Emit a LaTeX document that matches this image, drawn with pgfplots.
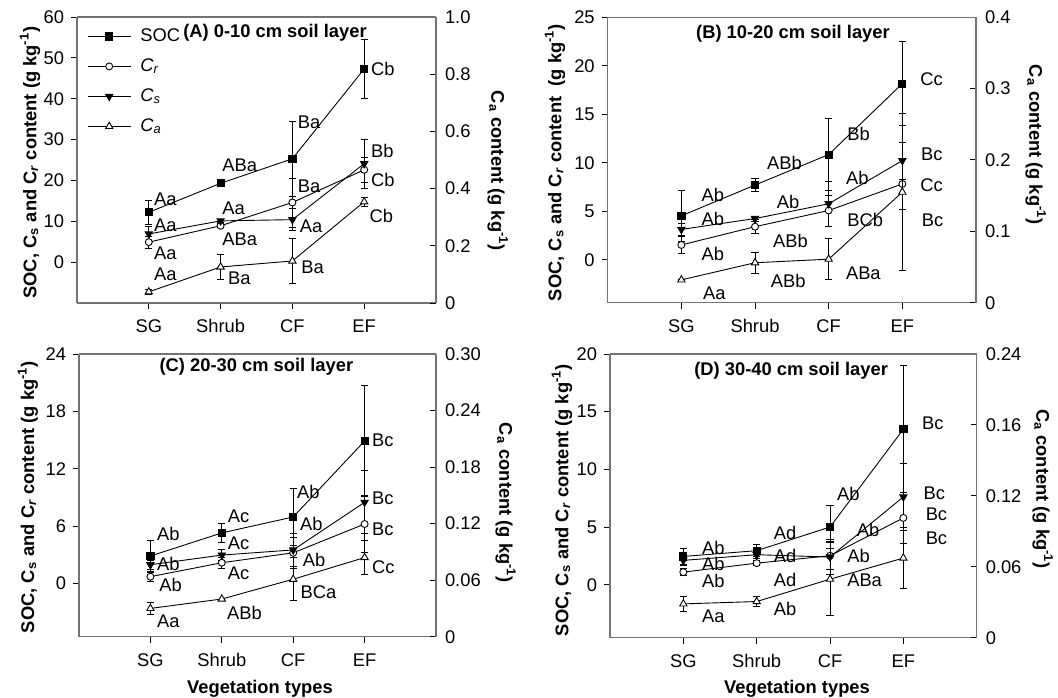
\documentclass[border=0pt]{standalone}
\usepackage{fontspec}
\setmainfont{Liberation Sans}
\usepackage{pgfplots}
\pgfplotsset{compat=1.18}
\newcommand{\fs}{\fontsize{9.2}{11}\selectfont}
\newcommand{\lab}[3]{\node[anchor=west,inner sep=0pt,font=\fs] at (axis cs:#1,#2) {#3};}
\pgfplotsset{
  base/.style={scale only axis, xmin=0, xmax=5,
    /pgf/number format/assume math mode=true,
    tick label style={font=\fs},
    axis line style={draw=black!55, line width=0.6bp},
    major tick length=3bp,
    every tick/.style={black, line width=0.5bp},
  },
  lax/.style={base, axis y line*=left, axis x line*=bottom, tick align=outside,
    xtick={1,2,3,4}, xticklabels={SG,Shrub,CF,EF}, clip=false,
    xticklabel style={text height=6.7bp, text depth=0pt, yshift=-1.5bp},
    every axis y label/.style={rotate=90, anchor=center, font=\fs\bfseries},
    every axis x label/.style={anchor=center, font=\fs\bfseries},
  },
  rax/.style={base, axis y line*=right, axis x line*=top, xtick=\empty, ymin=0, tick align=inside,
    yticklabel style={xshift=1bp},
    every axis y label/.style={rotate=-90, anchor=center, font=\fs\bfseries},
  },
  pl/.style={black, line width=0.45bp,
    error bars/y dir=both, error bars/y explicit,
    error bars/error bar style={line width=0.45bp, black, solid},
    error bars/error mark options={rotate=90, mark size=1.8bp, line width=0.45bp, black}},
  soc/.style={pl, mark=square*, mark size=1.8bp, mark options={fill=black, solid, line width=0.45bp}},
  cr/.style={pl, mark=*, mark size=1.75bp, mark options={fill=white, solid, line width=0.45bp}},
  cs/.style={pl, mark=triangle*, mark size=2.1bp, mark options={rotate=180, fill=black, solid, line width=0.45bp}},
  ca/.style={pl, mark=triangle*, mark size=2.1bp, mark options={fill=white, solid, line width=0.45bp}},
}
\begin{document}
\begin{tikzpicture}
\useasboundingbox (0,0) rectangle (529bp,-349bp);
% ---------------- Panel A ----------------
\begin{axis}[lax, at={(38.5bp,-8.5bp)}, anchor=north west, width=179.5bp, height=143bp,
  ymin=-10, ymax=60, ytick={0,10,20,30,40,50,60},
  ylabel={SOC, C\textsubscript{s} and C\textsubscript{\itshape r} content (g kg\textsuperscript{-1})},
  ylabel style={at={(axis description cs:-0.131,0.491)}},
  legend style={draw=none, fill=none, inner sep=0pt, at={(axis description cs:0.027,0.965)}, anchor=north west,
    font=\fs, row sep=6bp, nodes={inner sep=0pt, text height=7bp, text depth=2bp},
    /tikz/every odd column/.append style={column sep=4.5bp}},
  legend cell align=left,
  legend image code/.code={\draw[mark repeat=2,mark phase=2,#1] plot coordinates {(0bp,0bp) (10.85bp,0bp) (21.7bp,0bp)};},
]
\addplot[soc] coordinates {(1,12.2) +- (0,2.9) (2,19.3) +- (0,0.5) (3,25.3) +- (0,9.1) (4,47.3) +- (0,7.2)};
\addplot[cr] coordinates {(1,4.9) +- (0,1.5) (2,8.9) +- (0,0.5) (3,14.6) +- (0,6.0) (4,22.6) +- (0,3.0)};
\addplot[cs] coordinates {(1,6.9) +- (0,1.9) (2,10.1) +- (0,0.4) (3,10.4) +- (0,2.7) (4,24.1) +- (0,6.0)};
\addlegendimage{ca}
\legend{SOC, \textit{C}\textsubscript{\textit{r}}, \textit{C}\textsubscript{\textit{s}}, \textit{C}\textsubscript{\textit{a}}}
\lab{1.07}{15.4}{Aa}\lab{2.02}{23.8}{ABa}\lab{3.07}{34.3}{Ba}\lab{4.09}{47.3}{Cb}
\lab{1.07}{9.0}{Aa}\lab{2.02}{13.2}{Aa}\lab{3.10}{8.7}{Aa}\lab{4.09}{27.3}{Bb}
\lab{1.07}{2.2}{Aa}\lab{2.02}{5.7}{ABa}\lab{3.07}{18.5}{Ba}\lab{4.09}{20.2}{Cb}
\lab{1.07}{-2.9}{Aa}\lab{2.10}{-3.9}{Ba}\lab{3.12}{-1.3}{Ba}\lab{4.07}{11.3}{Cb}
\node[font=\fs\bfseries, anchor=west, inner sep=0pt] at (rel axis cs:0.295,0.944) {(A) 0-10 cm soil layer};
\end{axis}
\begin{axis}[rax, at={(38.5bp,-8.5bp)}, anchor=north west, width=179.5bp, height=143bp,
  ymax=1, ytick={0,0.2,0.4,0.6,0.8,1}, yticklabels={0,0.2,0.4,0.6,0.8,1.0},
  ylabel={C\textsubscript{a} content (g kg\textsuperscript{-1})},
  ylabel style={at={(axis description cs:1.172,0.462)}}]
\addplot[ca] coordinates {(1,0.039) +- (0,0.01) (2,0.126) +- (0,0.043) (3,0.147) +- (0,0.08) (4,0.354) +- (0,0.015)};
\end{axis}
% ---------------- Panel B ----------------
\begin{axis}[lax, at={(303.85bp,-8.65bp)}, anchor=north west, width=184.15bp, height=142.7bp,
  ymin=-4.4, ymax=25, ytick={0,5,10,15,20,25},
  ylabel={SOC, C\textsubscript{s} and C\textsubscript{\itshape r} content\ \ (g kg\textsuperscript{-1})},
  ylabel style={at={(axis description cs:-0.143,0.491)}}]
\addplot[soc] coordinates {(1,4.55) +- (0,2.6) (2,7.72) +- (0,0.65) (3,10.86) +- (0,3.7) (4,18.17) +- (0,4.3)};
\addplot[cr] coordinates {(1,1.55) +- (0,0.85) (2,3.43) +- (0,0.7) (3,5.1) +- (0,1.6) (4,7.83) +- (0,2.6)};
\addplot[cs] coordinates {(1,3.15) +- (0,0.6) (2,4.27) +- (0,0.25) (3,5.79) +- (0,2.3) (4,10.24) +- (0,1.9)};
\lab{1.27}{6.72}{Ab}\lab{2.16}{10.0}{ABb}\lab{3.25}{13.0}{Bb}\lab{4.24}{18.6}{Cc}
\lab{1.27}{4.24}{Ab}\lab{2.29}{5.97}{Ab}\lab{3.23}{8.45}{Ab}\lab{4.25}{10.86}{Bc}
\lab{1.27}{0.62}{Ab}\lab{2.24}{2.0}{ABb}\lab{3.25}{4.14}{BCb}\lab{4.24}{7.66}{Cc}
\lab{1.29}{-3.38}{Aa}\lab{2.21}{-2.17}{ABb}\lab{3.23}{-1.38}{ABa}\lab{4.26}{4.07}{Bc}
\node[font=\fs\bfseries, inner sep=0pt] at (rel axis cs:0.503,0.941) {(B) 10-20 cm soil layer};
\end{axis}
\begin{axis}[rax, at={(303.85bp,-8.65bp)}, anchor=north west, width=184.15bp, height=142.7bp,
  ymax=0.4, ytick={0,0.1,0.2,0.3,0.4}, yticklabels={0,0.1,0.2,0.3,0.4},
  ylabel={C\textsubscript{a} content (g kg\textsuperscript{-1})},
  ylabel style={at={(axis description cs:1.162,0.553)}}]
\addplot[ca] coordinates {(1,0.032) +- (0,0.0) (2,0.056) +- (0,0.015) (3,0.061) +- (0,0.029) (4,0.155) +- (0,0.11)};
\end{axis}
% ---------------- Panel C ----------------
\begin{axis}[lax, at={(39.5bp,-177bp)}, anchor=north west, width=178.5bp, height=141.35bp,
  ymin=-5.58, ymax=24, ytick={0,6,12,18,24},
  ylabel={SOC, C\textsubscript{s} and C\textsubscript{\itshape r} content (g kg\textsuperscript{-1})},
  ylabel style={at={(axis description cs:-0.143,0.494)}},
  xlabel={Vegetation types}, xlabel style={at={(axis description cs:0.507,-0.183)}}]
\addplot[soc] coordinates {(1,2.86) +- (0,1.67) (2,5.28) +- (0,1.0) (3,6.95) +- (0,2.97) (4,14.9) +- (0,5.8)};
\addplot[cr] coordinates {(1,0.70) +- (0,0.53) (2,2.16) +- (0,0.6) (3,3.2) +- (0,1.6) (4,6.21) +- (0,3.0)};
\addplot[cs] coordinates {(1,1.95) +- (0,0.5) (2,2.96) +- (0,0.6) (3,3.5) +- (0,1.74) (4,8.48) +- (0,3.3)};
\lab{1.09}{5.16}{Ab}\lab{2.08}{7.05}{Ac}\lab{3.05}{9.6}{Ab}\lab{4.10}{15.0}{Bc}
\lab{1.09}{2.02}{Ab}\lab{2.08}{4.19}{Ac}\lab{3.09}{6.17}{Ab}\lab{4.10}{8.89}{Bc}
\lab{1.12}{-0.17}{Ab}\lab{2.08}{1.05}{Ac}\lab{3.13}{2.44}{Ab}\lab{4.10}{5.65}{Bc}
\lab{1.09}{-3.94}{Aa}\lab{2.07}{-3.14}{ABb}\lab{3.10}{-0.94}{BCa}\lab{4.10}{1.74}{Cc}
\node[font=\fs\bfseries, inner sep=0pt] at (rel axis cs:0.497,0.954) {(C) 20-30 cm soil layer};
\end{axis}
\begin{axis}[rax, at={(39.5bp,-177bp)}, anchor=north west, width=178.5bp, height=141.35bp,
  ymax=0.30, ytick={0,0.06,0.12,0.18,0.24,0.30}, yticklabels={0,0.06,0.12,0.18,0.24,0.30},
  ylabel={C\textsubscript{a} content (g kg\textsuperscript{-1})},
  ylabel style={at={(axis description cs:1.195,0.473)}}]
\addplot[ca] coordinates {(1,0.030) +- (0,0.006) (2,0.040) +- (0,0.0) (3,0.061) +- (0,0.023) (4,0.084) +- (0,0.018)};
\end{axis}
% ---------------- Panel D ----------------
\begin{axis}[lax, at={(305bp,-177bp)}, anchor=north west, width=183.35bp, height=141.85bp,
  ymin=-4.58, ymax=20, ytick={0,5,10,15,20},
  ylabel={SOC, C\textsubscript{s} and C\textsubscript{\itshape r} content (g kg\textsuperscript{-1})},
  ylabel style={at={(axis description cs:-0.131,0.485)}},
  xlabel={Vegetation types}, xlabel style={at={(axis description cs:0.51,-0.180)}}]
\addplot[soc] coordinates {(1,2.46) +- (0,0.7) (2,2.96) +- (0,0.5) (3,5.01) +- (0,1.86) (4,13.48) +- (0,5.5)};
\addplot[cr] coordinates {(1,1.10) +- (0,0.3) (2,1.88) +- (0,0.2) (3,2.52) +- (0,1.2) (4,5.80) +- (0,2.2)};
\addplot[cs] coordinates {(1,2.12) +- (0,0.4) (2,2.61) +- (0,0.3) (3,2.41) +- (0,1.5) (4,7.62) +- (0,2.9)};
\lab{1.25}{3.2}{Ab}\lab{2.23}{4.49}{Ad}\lab{3.09}{7.91}{Ab}\lab{4.25}{14.0}{Bc}
\lab{1.25}{1.85}{Ab}\lab{2.23}{2.52}{Ad}\lab{3.36}{4.72}{Ab}\lab{4.27}{7.91}{Bc}
\lab{1.25}{0.3}{Ab}\lab{2.23}{0.43}{Ad}\lab{3.23}{2.52}{Ab}\lab{4.30}{6.14}{Bc}
\lab{1.25}{-2.7}{Aa}\lab{2.23}{-2.12}{Ab}\lab{3.23}{0.43}{ABa}\lab{4.30}{4.0}{Bc}
\node[font=\fs\bfseries, inner sep=0pt] at (rel axis cs:0.494,0.941) {(D) 30-40 cm soil layer};
\end{axis}
\begin{axis}[rax, at={(305bp,-177bp)}, anchor=north west, width=183.35bp, height=141.85bp,
  ymax=0.24, ytick={0,0.06,0.12,0.18,0.24}, yticklabels={0,0.06,0.12,0.16,0.24},
  ylabel={C\textsubscript{a} content (g kg\textsuperscript{-1})},
  ylabel style={at={(axis description cs:1.180,0.524)}}]
\addplot[ca] coordinates {(1,0.0286) +- (0,0.006) (2,0.0306) +- (0,0.004) (3,0.0495) +- (0,0.031) (4,0.0674) +- (0,0.026)};
\end{axis}
\end{tikzpicture}
\end{document}
